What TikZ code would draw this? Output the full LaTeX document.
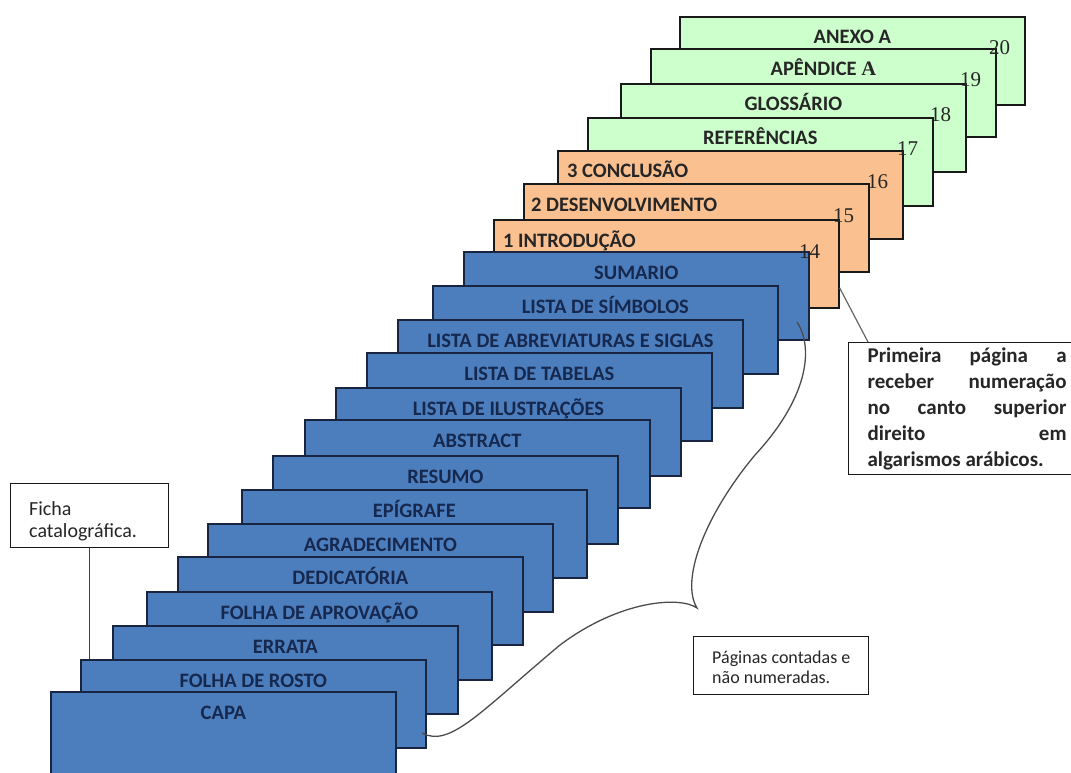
\documentclass[tikz,border=0pt]{standalone}
\usepackage{fontspec}
\setmainfont{Carlito}
\newfontfamily\numfont{Liberation Serif}
\usetikzlibrary{positioning}

\definecolor{pageblue}{RGB}{76,126,190}
\definecolor{bluedraw}{RGB}{24,36,64}
\definecolor{bluetext}{RGB}{22,40,78}
\definecolor{pageorange}{RGB}{250,192,144}
\definecolor{pagegreen}{RGB}{204,255,204}
\definecolor{pagetext}{RGB}{38,38,38}

\begin{document}
\begin{tikzpicture}
 	[x=1pt,y=-1pt,
	bluepage/.style={rectangle,draw=bluedraw,fill=pageblue,line width=1.7pt,anchor=north west,inner sep=0pt,minimum width=345pt,minimum height=88pt},
	orangepage/.style={bluepage,draw=black!90,fill=pageorange},
	greenpage/.style={bluepage,draw=black!90,fill=pagegreen},
	bluetitle/.style={font=\fontsize{20.5}{24}\selectfont\bfseries,text=bluetext,inner sep=0pt},
	title/.style={bluetitle,text=pagetext},
	pagenum/.style={font=\numfont\fontsize{21}{24}\selectfont,text=pagetext,inner sep=0pt,anchor=base},
	notebox/.style={rectangle,draw=black!90,fill=white,line width=1.2pt,anchor=north west,inner sep=0pt},
	notetext/.style={align=left,inner sep=0pt,text=pagetext}]
	\useasboundingbox (0,0) rectangle (1071,773);
	\clip (0,0) rectangle (1071,773);
	% pages, from the back to the front
	\node (anexo) at (679,16) [greenpage] {};
	\node [below=28pt of anexo.north,anchor=base,title] {ANEXO A};
	\node (apendice) at (650,48) [greenpage] {};
	\node [below=28pt of apendice.north,anchor=base,title] {APÊNDICE {\numfont\bfseries A}};
	\node (glossario) at (620,83) [greenpage] {};
	\node [below=28pt of glossario.north,anchor=base,title] {GLOSSÁRIO};
	\node (referencias) at (587,117) [greenpage] {};
	\node [below=28pt of referencias.north,anchor=base,title] {REFERÊNCIAS};
	\node (conclusao) at (557,150) [orangepage] {};
	\node [below=28pt of conclusao.north west,anchor=base west,xshift=10pt,title] {3 CONCLUSÃO};
	\node (desenv) at (523,183) [orangepage] {};
	\node [below=28pt of desenv.north west,anchor=base west,xshift=8pt,title] {2 DESENVOLVIMENTO};
	\node (intro) at (493,219) [orangepage] {};
	\node [below=28pt of intro.north west,anchor=base west,xshift=10pt,title] {1 INTRODUÇÃO};
	\node (sumario) at (463,251) [bluepage] {};
	\node [below=28pt of sumario.north,anchor=base,bluetitle] {SUMARIO};
	\node (simbolos) at (432,285) [bluepage] {};
	\node [below=28pt of simbolos.north,anchor=base,bluetitle] {LISTA DE SÍMBOLOS};
	\node (abrev) at (397,319) [bluepage] {};
	\node [below=28pt of abrev.north,anchor=base,bluetitle] {LISTA DE ABREVIATURAS E SIGLAS};
	\node (tabelas) at (366,352) [bluepage] {};
	\node [below=28pt of tabelas.north,anchor=base,bluetitle] {LISTA DE TABELAS};
	\node (ilustr) at (335,387) [bluepage] {};
	\node [below=28pt of ilustr.north,anchor=base,bluetitle] {LISTA DE ILUSTRAÇÕES};
	\node (abstract) at (304,419) [bluepage] {};
	\node [below=28pt of abstract.north,anchor=base,bluetitle] {ABSTRACT};
	\node (resumo) at (272,455) [bluepage] {};
	\node [below=28pt of resumo.north,anchor=base,bluetitle] {RESUMO};
	\node (epigrafe) at (241,489) [bluepage] {};
	\node [below=28pt of epigrafe.north,anchor=base,bluetitle] {EPÍGRAFE};
	\node (agradec) at (207,523) [bluepage] {};
	\node [below=28pt of agradec.north,anchor=base,bluetitle] {AGRADECIMENTO};
	\node (dedic) at (177,556) [bluepage] {};
	\node [below=28pt of dedic.north,anchor=base,bluetitle] {DEDICATÓRIA};
	\node (aprov) at (146,591) [bluepage] {};
	\node [below=28pt of aprov.north,anchor=base,bluetitle] {FOLHA DE APROVAÇÃO};
	\node (errata) at (112,625) [bluepage] {};
	\node [below=28pt of errata.north,anchor=base,bluetitle] {ERRATA};
	\node (rosto) at (80,659) [bluepage] {};
	\node [below=28pt of rosto.north,anchor=base,bluetitle] {FOLHA DE ROSTO};
	\node (capa) at (50,691) [bluepage] {};
	\node [below=28pt of capa.north,anchor=base,bluetitle] {CAPA};
	% page numbers
	\node [pagenum] at ([xshift=-26pt,yshift=-39pt]anexo.north east) {20};
	\node [pagenum] at ([xshift=-26pt,yshift=-39pt]apendice.north east) {19};
	\node [pagenum] at ([xshift=-26pt,yshift=-39pt]glossario.north east) {18};
	\node [pagenum] at ([xshift=-26pt,yshift=-39pt]referencias.north east) {17};
	\node [pagenum] at ([xshift=-26pt,yshift=-39pt]conclusao.north east) {16};
	\node [pagenum] at ([xshift=-26pt,yshift=-39pt]desenv.north east) {15};
	\node [pagenum] at ([xshift=-30pt,yshift=-39pt]intro.north east) {14};
	% notes
	\node (primeira) at (848,342) [notebox,text width=199pt,inner xsep=19pt,inner ysep=5pt,align=justify,text=pagetext,font=\fontsize{21}{26}\selectfont\bfseries]
	  {Primeira página a\linebreak receber numeração\linebreak no canto superior\linebreak direito em\linebreak algarismos arábicos.};
	\node (ficha) at (10,483) [notebox,minimum width=158pt,minimum height=64pt] {};
	\node [below right=18pt and 19pt of ficha.north west,notetext,font=\fontsize{20}{22}\selectfont] {Ficha\\catalográfica.};
	\node (paginas) at (693,636) [notebox,minimum width=175pt,minimum height=58pt] {};
	\node [below right=15pt and 19pt of paginas.north west,notetext,font=\fontsize{18}{20}\selectfont] {Páginas contadas e\\não numeradas.};
	\coordinate (introcorner) at ([yshift=-69pt]intro.north east);
	\coordinate (bracetop) at (797,322);
	\coordinate (bracetip) at (697,608);
	\coordinate (bracebot) at (422,733);
	\draw [line width=1.2pt,black!60] (introcorner) -- ([xshift=20pt]primeira.north west);
	\draw [line width=1.2pt,black!75] (ficha.south) -- (ficha.south |- rosto.north);
	% brace over the unnumbered pages
	\draw [line width=1.3pt,black!70] (bracetop) .. controls (815,350) and (806,400) .. (755,455)
	  .. controls (705,515) and (680,580) .. (bracetip)
	  .. controls (680,596) and (620,600) .. (560,645)
	  .. controls (480,712) and (450,748) .. (bracebot);
\end{tikzpicture}
\end{document}
